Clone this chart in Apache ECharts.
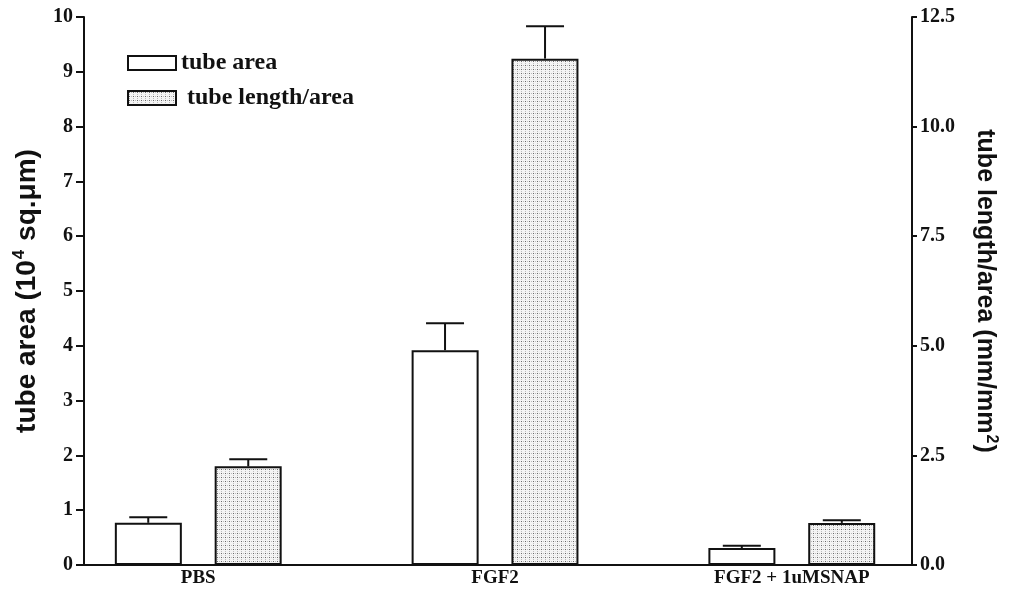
<!DOCTYPE html>
<html>
<head>
<meta charset="utf-8">
<script src="https://cdn.jsdelivr.net/npm/echarts@6/dist/echarts.min.js"></script>
<style>html,body{margin:0;padding:0;background:#fff;}#c{width:1014px;height:598px;}</style>
</head>
<body>
<div id="c"></div>
<script>
// ---- data ----
var categories = ['PBS', 'FGF2', 'FGF2 + 1uMSNAP'];
var categoryPos = [0, 1, 2];
var tubeArea = [0.77, 3.92, 0.31];          // 10^4 sq.um (left axis)
var tubeAreaErr = [0.10, 0.49, 0.04];
var tubeLength = [2.25, 11.55, 0.96];       // mm/mm^2 (right axis)
var tubeLengthErr = [0.16, 0.74, 0.06];
var leftTicks = [0, 1, 2, 3, 4, 5, 6, 7, 8, 9, 10];
var rightTicks = [0, 2.5, 5, 7.5, 10, 12.5];

// dotted pattern
var pc = document.createElement('canvas');
pc.width = 4; pc.height = 4;
var pctx = pc.getContext('2d');
pctx.fillStyle = '#f4f4f4'; pctx.fillRect(0, 0, 4, 4);
pctx.fillStyle = '#6a6a6a'; pctx.fillRect(1, 1, 1, 1);
pctx.fillStyle = '#bdbdbd'; pctx.fillRect(3, 1, 1, 1); pctx.fillRect(1, 3, 1, 1);
var dotPattern = { image: pc, repeat: 'repeat' };

var serif = '"Liberation Serif", "Times New Roman", serif';
var sans = '"Liberation Sans", Arial, sans-serif';

function errSeries(name, vals, errs, yIdx, offset) {
  var d = vals.map(function (v, i) { return [categoryPos[i], v, v + errs[i]]; });
  return {
    type: 'custom', name: name + ' err', yAxisIndex: yIdx, z: 5,
    encode: { x: 0, y: [1, 2] },
    data: d,
    renderItem: function (params, api) {
      var x = api.value(0);
      var p0 = api.coord([x, api.value(1)]);
      var p1 = api.coord([x, api.value(2)]);
      var cx = p0[0] + offset;
      var hw = 19;
      var st = { stroke: '#111', lineWidth: 2 };
      return { type: 'group', children: [
        { type: 'line', shape: { x1: cx, y1: p0[1], x2: cx, y2: p1[1] }, style: st },
        { type: 'line', shape: { x1: cx - hw, y1: p1[1], x2: cx + hw, y2: p1[1] }, style: st }
      ]};
    }
  };
}

function nameRich(size) {
  return {
    t: { fontFamily: sans, fontWeight: 'bold', fontSize: size, color: '#111', lineHeight: size + 4 },
    s: { fontFamily: sans, fontWeight: 'bold', fontSize: Math.round(size * 0.62), color: '#111', verticalAlign: 'top', lineHeight: size + 4, padding: [0, 1, Math.round(size * 0.5), 1] }
  };
}

var chart = echarts.init(document.getElementById('c'));
chart.setOption({
  animation: false,
  backgroundColor: '#fff',
  grid: { left: 84, right: 102, top: 17, bottom: 33 },
  legend: {
    orient: 'vertical', left: 122, top: 46, itemWidth: 48, itemHeight: 14, itemGap: 11,
    icon: 'rect',
    data: ['tube area', 'tube length/area'],
    formatter: function (n) { return n === 'tube length/area' ? ' ' + n : n; },
    textStyle: { fontFamily: serif, fontWeight: 'bold', fontSize: 24, color: '#111', lineHeight: 22 }
  },
  xAxis: {
    type: 'value', min: -0.385, max: 2.405,
    splitLine: { show: false },
    axisLine: { show: true, onZero: false, lineStyle: { color: '#111', width: 2 } },
    axisTick: { show: false },
    axisLabel: {
      customValues: categoryPos,
      formatter: function (v) { var i = Math.round(v); return categories[i] || ''; },
      fontFamily: serif, fontWeight: 'bold', fontSize: 19, color: '#111', margin: 4
    }
  },
  yAxis: [
    {
      type: 'value', min: 0, max: 10, interval: 1, position: 'left',
      name: '{t|tube area (10}{s|4}{t| sq.\u03bcm)}',
      nameLocation: 'middle', nameGap: 40, nameRotate: 90,
      nameTextStyle: { rich: nameRich(28) },
      splitLine: { show: false },
      axisLine: { show: true, onZero: false, lineStyle: { color: '#111', width: 2 } },
      axisTick: { show: true, length: 8, lineStyle: { color: '#111', width: 2 } },
      axisLabel: { fontFamily: serif, fontWeight: 'bold', fontSize: 20, color: '#111', margin: 11 }
    },
    {
      type: 'value', min: 0, max: 12.5, interval: 2.5, position: 'right',
      name: '{t|tube length/area (mm/mm}{s|2}{t|)}',
      nameLocation: 'middle', nameGap: 58, nameRotate: -90,
      nameTextStyle: { rich: nameRich(25) },
      splitLine: { show: false },
      axisLine: { show: true, onZero: false, lineStyle: { color: '#111', width: 2 } },
      axisTick: { show: true, length: 5, lineStyle: { color: '#111', width: 2 } },
      axisLabel: { fontFamily: serif, fontWeight: 'bold', fontSize: 20, color: '#111', margin: 8,
        formatter: function (v) { return v.toFixed(1); } }
    }
  ],
  series: [
    {
      name: 'tube area', type: 'bar', yAxisIndex: 0, barWidth: 67, barGap: '49%',
      data: tubeArea.map(function (v, i) { return [categoryPos[i], v]; }),
      itemStyle: { color: '#ffffff', borderColor: '#111', borderWidth: 2 }
    },
    {
      name: 'tube length/area', type: 'bar', yAxisIndex: 1, barWidth: 67, barGap: '49%',
      data: tubeLength.map(function (v, i) { return [categoryPos[i], v]; }),
      itemStyle: { color: dotPattern, borderColor: '#111', borderWidth: 2 }
    },
    errSeries('tube area', tubeArea, tubeAreaErr, 0, -50),
    errSeries('tube length/area', tubeLength, tubeLengthErr, 1, 50)
  ]
});
</script>
</body>
</html>
